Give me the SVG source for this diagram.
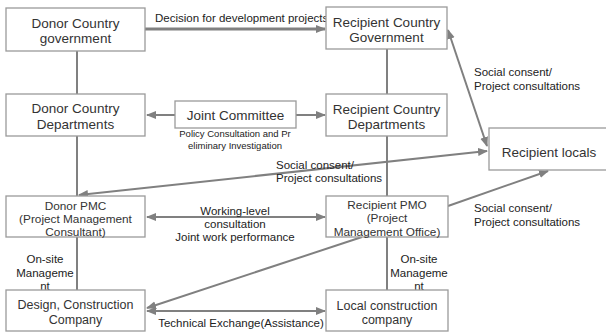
<svg xmlns="http://www.w3.org/2000/svg" width="606" height="332" viewBox="0 0 606 332">
<defs>
<style>
.box{fill:#fff;stroke:#9a9a9a;stroke-width:1.3}
.t{font-family:"Liberation Sans",Arial,sans-serif;font-size:13.5px;fill:#333;text-anchor:middle}
.m{font-size:11.8px}
.s{font-family:"Liberation Sans",Arial,sans-serif;font-size:11.5px;fill:#222}
.xs{font-family:"Liberation Sans",Arial,sans-serif;font-size:9.5px;fill:#222;text-anchor:middle}
.ln{stroke:#808080;stroke-width:2;fill:none}
</style>
<marker id="ah" viewBox="0 0 10 10" refX="9" refY="5" markerWidth="5" markerHeight="5" orient="auto-start-reverse" markerUnits="strokeWidth">
<path d="M0,1 L10,5 L0,9 z" fill="#808080"/>
</marker>
<marker id="ah2" viewBox="0 0 10 10" refX="9" refY="5" markerWidth="3.5" markerHeight="3.5" orient="auto-start-reverse" markerUnits="strokeWidth">
<path d="M0,1 L10,5 L0,9 z" fill="#808080"/>
</marker>
</defs>
<g id="connectors">
<line class="ln" x1="77" y1="51" x2="77" y2="94"/>
<line class="ln" x1="77" y1="136" x2="77" y2="196"/>
<line class="ln" x1="77" y1="237" x2="77" y2="290"/>
<line class="ln" x1="387" y1="49" x2="387" y2="94"/>
<line class="ln" x1="387" y1="136" x2="387" y2="196"/>
<line class="ln" x1="387" y1="237" x2="387" y2="290"/>
<line class="ln" style="stroke-width:3" x1="145" y1="29" x2="325" y2="29" marker-end="url(#ah2)"/>
<line class="ln" x1="175" y1="115" x2="147" y2="115" marker-end="url(#ah)"/>
<line class="ln" x1="296" y1="115" x2="325" y2="115" marker-end="url(#ah)"/>
<line class="ln" x1="448" y1="30" x2="487" y2="146" marker-start="url(#ah)" marker-end="url(#ah)"/>
<line class="ln" x1="79" y1="195" x2="487" y2="151" marker-start="url(#ah)" marker-end="url(#ah)"/>
<line class="ln" x1="147" y1="217" x2="325" y2="217" marker-start="url(#ah)" marker-end="url(#ah)"/>
<line class="ln" x1="362" y1="237" x2="147" y2="308" marker-end="url(#ah)"/>
<line class="ln" x1="448" y1="206" x2="548" y2="171" marker-end="url(#ah)"/>
<line class="ln" x1="147" y1="311" x2="325" y2="311" marker-start="url(#ah)" marker-end="url(#ah)"/>
<text class="s" x="155" y="22">Decision for development projects</text>
<text class="xs" x="235" y="137">Policy Consultation and Pr</text>
<text class="xs" x="235" y="149">eliminary Investigation</text>
<text class="s" x="474" y="76">Social consent/</text>
<text class="s" x="474" y="90">Project consultations</text>
<text class="s" x="276" y="169">Social consent/</text>
<text class="s" x="276" y="182">Project consultations</text>
<text class="s" x="474" y="212">Social consent/</text>
<text class="s" x="474" y="226">Project consultations</text>
<text class="s" x="235" y="215" text-anchor="middle">Working-level</text>
<text class="s" x="235" y="228" text-anchor="middle">consultation</text>
<text class="s" x="235" y="241" text-anchor="middle">Joint work performance</text>
<text class="s" x="241" y="327" text-anchor="middle">Technical Exchange(Assistance)</text>
<text class="s" x="45" y="263" text-anchor="middle">On-site</text>
<text class="s" x="45" y="277" text-anchor="middle">Manageme</text>
<text class="s" x="45" y="290" text-anchor="middle">nt</text>
<text class="s" x="419" y="263" text-anchor="middle">On-site</text>
<text class="s" x="419" y="277" text-anchor="middle">Manageme</text>
<text class="s" x="419" y="290" text-anchor="middle">nt</text>
</g>
<g id="donor-gov"><rect class="box" x="6" y="8" width="139" height="43"/><text class="t" x="75.5" y="28">Donor Country</text><text class="t" x="75.5" y="43">government</text></g>
<g id="donor-dept"><rect class="box" x="6" y="94" width="139" height="42"/><text class="t" x="75.5" y="113">Donor Country</text><text class="t" x="75.5" y="129">Departments</text></g>
<g id="joint-committee"><rect class="box" x="175" y="101" width="121" height="27"/><text class="t" x="235.5" y="120">Joint Committee</text></g>
<g id="recipient-gov"><rect class="box" x="326" y="7" width="121" height="42"/><text class="t" x="386.5" y="27">Recipient Country</text><text class="t" x="386.5" y="42">Government</text></g>
<g id="recipient-dept"><rect class="box" x="326" y="94" width="121" height="42"/><text class="t" x="386.5" y="114">Recipient Country</text><text class="t" x="386.5" y="129">Departments</text></g>
<g id="recipient-locals"><rect class="box" x="489" y="128" width="125" height="42"/><text class="t" x="549" y="157">Recipient locals</text></g>
<g id="donor-pmc"><rect class="box" x="6" y="196" width="139" height="41"/><text class="t m" x="75.5" y="210">Donor PMC</text><text class="t m" x="75.5" y="223">(Project Management</text><text class="t m" x="75.5" y="236">Consultant)</text></g>
<g id="recipient-pmo"><rect class="box" x="326" y="196" width="122" height="41"/><text class="t m" x="387" y="209">Recipient PMO</text><text class="t m" x="387" y="222">(Project</text><text class="t m" x="387" y="235.5">Management Office)</text></g>
<g id="design-company"><rect class="box" x="6" y="290" width="139" height="41"/><text class="t" style="font-size:12.5px" x="75.5" y="309">Design, Construction</text><text class="t" style="font-size:12.5px" x="75.5" y="324">Company</text></g>
<g id="local-company"><rect class="box" x="326" y="290" width="122" height="41"/><text class="t" style="font-size:12.5px" x="387" y="310">Local construction</text><text class="t" style="font-size:12.5px" x="387" y="324">company</text></g>
</svg>
